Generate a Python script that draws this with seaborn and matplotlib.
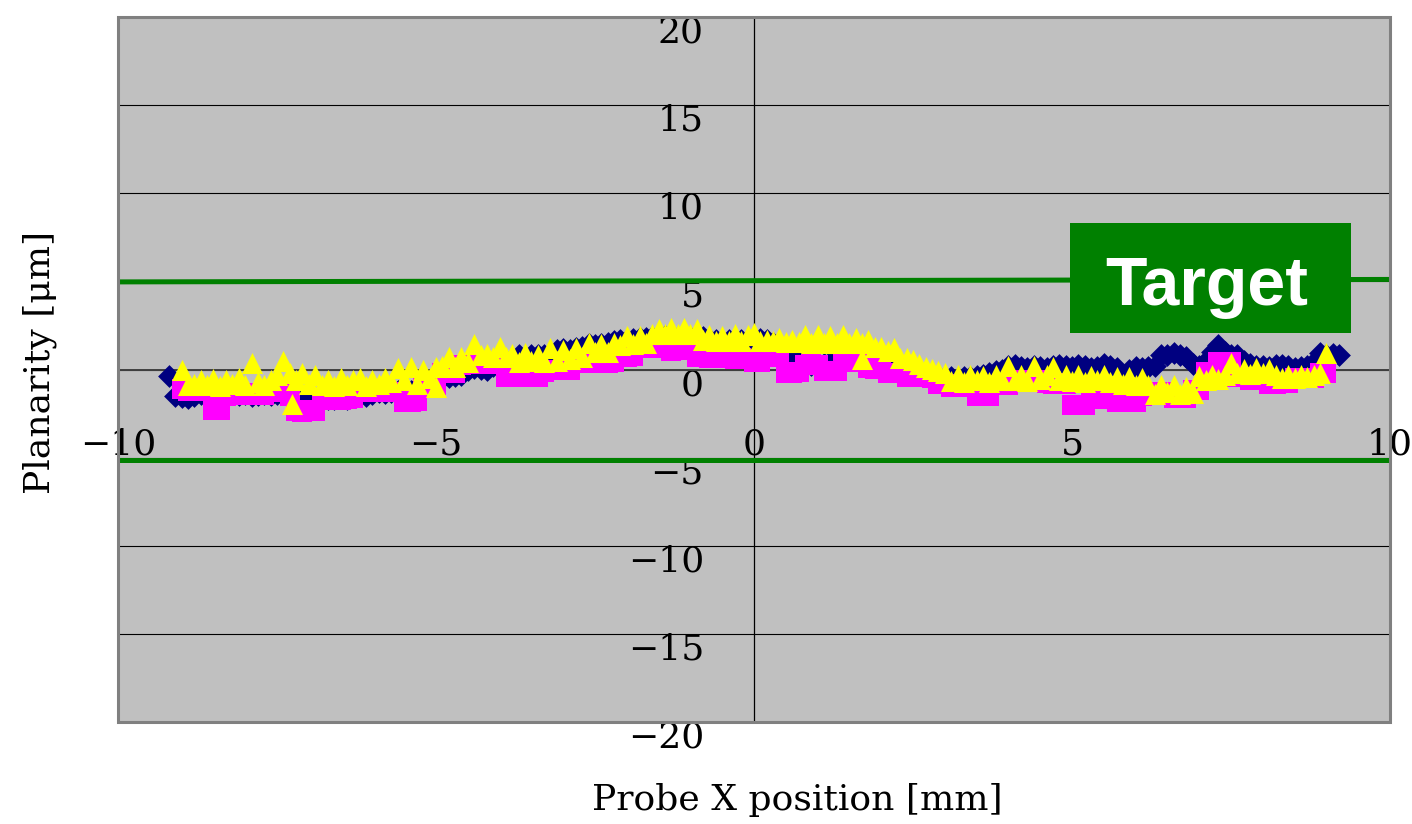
import numpy as np
import pandas as pd
import matplotlib
matplotlib.use("Agg")
import matplotlib.pyplot as plt
import seaborn as sns
from matplotlib.patches import Rectangle
from matplotlib.transforms import ScaledTranslation

# ---------------- data ----------------
x_ticks = [-10, -5, 0, 5, 10]
y_ticks = [-20, -15, -10, -5, 0, 5, 10, 15, 20]

# probe scan positions: step 0.1 mm
scan_start_a = -9.2   # series 1 (navy diamonds)
scan_start_b = -9.0   # series 2 / 3
scan_step = 0.1

series1_y = [-0.35, -1.5, -1.55, -1.6, -1.5, -1.4, -1.45, -1.5, -1.4, -1.3,
             -1.35, -1.45, -1.4, -1.5, -1.45, -1.4, -1.45, -1.4, -1.3, -1.4,
             -1.3, -1.5, -1.5, -1.6, -1.65, -1.7, -1.65, -1.6, -1.7, -1.5,
             -1.45, -1.5, -1.4, -1.3, -1.35, -1.3, -1.2, -1.25, -1.2, -1.0,
             -0.9, -0.85, -0.7, -0.5, -0.4, -0.35, -0.3, 0.0, 0.1, 0.05,
             0.0, 0.2, 0.3, 0.5, 0.6, 0.82, 0.7, 0.8, 0.85, 0.82,
             0.9, 1.1, 1.17, 1.1, 1.2, 1.3, 1.45, 1.4, 1.45, 1.5,
             1.6, 1.68, 1.7, 1.75, 1.8, 1.8, 1.85, 1.8, 1.9, 1.85,
             1.85, 1.9, 1.85, 1.85, 1.85, 1.75, 1.7, 1.6, 1.65, 1.6,
             1.7, 1.65, 1.75, 1.73, 1.7, 1.5, 1.2, 1.0, 0.8, 0.5,
             0.3, 0.26, 0.25, 0.3, 0.4, 0.5, 0.6, 0.7, 0.8, 0.75,
             0.7, 0.6, 0.5, 0.4, 0.3, 0.2, 0.1, 0.0, -0.1, -0.2,
             -0.3, -0.35, -0.4, -0.45, -0.5, -0.45, -0.4, -0.35, -0.3, -0.2,
             -0.1, 0.0, 0.2, 0.26, 0.15, 0.1, 0.2, 0.15, 0.1, 0.2,
             0.25, 0.2, 0.15, 0.26, 0.2, 0.1, 0.15, 0.3, 0.2, 0.1,
             -0.3, 0.0, 0.14, 0.1, 0.14, 0.2, 0.82, 0.85, 0.94, 0.8,
             0.7, 0.3, 0.2, 0.5, 1.0, 1.39, 1.0, 0.82, 0.82, 0.5,
             0.3, 0.2, 0.2, 0.15, 0.26, 0.26, 0.2, 0.1, 0.15, 0.2,
             0.4, 0.94, 0.8, 0.9, 0.82]

series2_y = [-1.1, -1.2, -1.1, -1.2, -1.15, -2.3, -2.3, -1.5, -1.4, -1.45,
             -1.4, -1.45, -1.35, -1.45, -1.3, -1.2, -1.25, -1.5, -2.35, -2.4,
             -2.3, -2.35, -1.7, -1.75, -1.7, -1.75, -1.7, -1.6, -1.3, -1.3,
             -1.25, -1.3, -1.25, -1.3, -1.3, -1.85, -1.85, -1.8, -0.9, -0.85,
             -0.9, -0.2, -0.2, -0.2, 0.25, 0.3, 0.3, 0.3, 0.3, 0.3,
             0.35, -0.45, -0.45, -0.4, -0.45, -0.4, -0.45, -0.15, -0.05, -0.05,
             -0.05, 0.0, 0.35, 0.35, 0.4, 0.35, 0.4, 0.35, 0.4, 0.7,
             0.7, 0.75, 1.2, 1.2, 1.25, 1.2, 1.25, 1.05, 1.2, 1.2,
             1.1, 0.7, 0.7, 0.65, 0.7, 0.65, 0.65, 0.6, 0.65, 0.6,
             0.45, 0.45, 0.7, 0.7, 0.7, -0.2, -0.2, -0.15, 0.25, 0.3,
             0.25, -0.1, -0.1, -0.1, 0.45, 0.6, 0.6, 0.45, 0.1, 0.05,
             0.1, -0.2, -0.2, -0.2, -0.45, -0.45, -0.45, -0.45, -0.5, -0.8,
             -0.8, -1.0, -1.0, -1.0, -1.0, -1.5, -1.5, -1.5, -0.9, -0.85,
             -0.9, -0.6, -0.6, -0.6, -0.6, -0.6, -0.75, -0.8, -0.75, -0.8,
             -2.0, -2.0, -2.0, -1.6, -1.6, -1.65, -1.65, -1.85, -1.85, -1.85,
             -1.85, -1.5, -1.45, -1.45, -1.3, -1.3, -1.6, -1.6, -1.6, -1.15,
             -1.15, -0.15, -0.15, 0.4, 0.4, 0.4, -0.45, -0.45, -0.6, -0.6,
             -0.6, -0.8, -0.8, -0.75, -0.75, -0.5, -0.5, -0.5, -0.5, -0.2,
             -0.2]

series3_y = [0.0, -0.9, -0.8, -0.6, -0.9, -0.55, -0.95, -0.6, -0.8, -0.5,
             -0.9, 0.35, -0.7, -0.9, -0.6, -0.3, 0.5, -0.2, -0.6, -0.2,
             -0.8, -0.3, -0.9, -0.6, -0.95, -0.5, -0.9, -0.6, -0.5, -0.95,
             -0.6, -0.8, -0.5, -0.7, 0.1, -0.6, 0.15, -0.8, 0.0, -0.5,
             0.15, 0.2, 0.7, 0.15, 0.7, 0.4, 1.45, 0.8, 0.9, 0.7,
             1.28, 0.7, 0.9, 0.4, 0.95, 0.5, 0.8, 0.4, 1.2, 0.5,
             1.1, 0.6, 1.2, 0.7, 1.5, 1.0, 1.45, 1.0, 1.5, 1.4,
             1.9, 1.45, 1.9, 1.5, 2.0, 2.3, 2.0, 2.35, 2.0, 2.35,
             2.0, 2.3, 1.7, 1.95, 1.6, 1.9, 1.6, 2.0, 1.6, 1.95,
             2.05, 1.6, 1.65, 1.6, 1.8, 1.55, 1.7, 1.55, 1.95, 1.5,
             1.95, 1.5, 1.9, 1.5, 1.95, 1.5, 1.8, 1.5, 1.65, 1.3,
             1.25, 1.05, 1.2, 0.65, 0.65, 0.55, 0.3, 0.15, 0.05, -0.1,
             -0.2, -0.65, -0.3, -0.7, -0.3, -0.6, -0.35, -0.7, -0.3, -0.6,
             0.2, -0.6, -0.3, -0.65, 0.2, -0.55, -0.3, 0.15, -0.6, -0.3,
             -0.65, -0.3, -0.7, -0.35, -0.6, -0.3, -0.7, -0.4, -0.8, -0.4,
             -0.9, -0.5, -0.9, -1.4, -0.9, -1.3, -0.9, -1.4, -1.0, -1.35,
             -0.35, -0.6, -0.3, -0.55, -0.3, 0.37, -0.2, 0.05, -0.25, 0.1,
             -0.2, 0.05, -0.3, -0.5, -0.3, -0.5, -0.3, -0.45, -0.3, -0.2,
             0.94]
series3_extra_x = [-7.26, -5.0, 1.7]
series3_extra_y = [-1.96, -1.0, 0.6]

target_x = [-10, 10]
target_upper = [4.97, 5.11]
target_lower = [-5.15, -5.15]
target_label = "Target"
target_box = (4.97, 2.09, 9.38, 8.31)   # x0, y0, x1, y1 in data units

# ---------------- frames ----------------
s1 = pd.DataFrame({"x": scan_start_a + scan_step * np.arange(len(series1_y)), "y": series1_y})
s2 = pd.DataFrame({"x": scan_start_b + scan_step * np.arange(len(series2_y)), "y": series2_y})
s3 = pd.DataFrame({"x": np.concatenate([scan_start_b + scan_step * np.arange(len(series3_y)), series3_extra_x]),
                   "y": np.concatenate([series3_y, series3_extra_y])})

# ---------------- style ----------------
sns.set_style("white")
plt.rcParams["font.family"] = ["DejaVu Serif", "Liberation Serif"]
plt.rcParams["axes.unicode_minus"] = True
plt.rcParams["text.color"] = "black"
plt.rcParams["xtick.labelcolor"] = "black"
plt.rcParams["ytick.labelcolor"] = "black"

fig = plt.figure(figsize=(14.12, 8.24), dpi=100)
ax = fig.add_axes([118 / 1412, 1 - 722 / 824, 1272 / 1412, 705 / 824])
ax.set_facecolor("#C0C0C0")

sns.scatterplot(data=s1, x="x", y="y", ax=ax, marker="D", s=135, color="#000080",
                linewidth=0, zorder=3)
sns.scatterplot(data=s2, x="x", y="y", ax=ax, marker="s", s=195, color="#FF00FF",
                linewidth=0, zorder=4)
sns.scatterplot(data=s3, x="x", y="y", ax=ax, marker="^", s=230, color="#FFFF00",
                linewidth=0, zorder=5)

ax.plot(target_x, target_upper, color="#008000", lw=3.6, zorder=6, solid_capstyle="butt")
ax.plot(target_x, target_lower, color="#008000", lw=3.6, zorder=6, solid_capstyle="butt")

bx0, by0, bx1, by1 = target_box
ax.add_patch(Rectangle((bx0, by0), bx1 - bx0, by1 - by0, facecolor="#008000",
                       edgecolor="none", zorder=7))
ax.text(7.12, 3.66, target_label, color="white", fontsize=49, fontweight="bold",
        family=["Liberation Sans", "DejaVu Sans"], ha="center", va="baseline", zorder=8)

ax.set_xlim(-10, 10)
ax.set_ylim(-20, 20)
ax.set_xticks(x_ticks)
ax.set_yticks(y_ticks)
ax.set_xlabel("")
ax.set_ylabel("")

# gridlines
ax.yaxis.grid(True, color="black", lw=0.8, zorder=1)
ax.xaxis.grid(False)
ax.set_axisbelow(True)

# axes crossing at origin
for side in ["top", "right"]:
    ax.spines[side].set_visible(False)
ax.spines["left"].set_position(("data", 0))
ax.spines["bottom"].set_position(("data", 0))
ax.spines["left"].set_color("black")
ax.spines["left"].set_linewidth(0.9)
ax.spines["bottom"].set_color("#404040")
ax.spines["bottom"].set_linewidth(1.4)
ax.spines["left"].set_zorder(2)
ax.spines["bottom"].set_zorder(2)

ax.tick_params(axis="x", direction="in", length=11, width=0.9, color="#404040",
               pad=42, labelsize=26)
ax.tick_params(axis="y", direction="in", length=11, width=0.9, color="black",
               pad=36, labelsize=26)
for lab in ax.get_yticklabels():
    lab.set_transform(lab.get_transform() + ScaledTranslation(0, -12 / 100, fig.dpi_scale_trans))

# plot-area border
ax.add_patch(Rectangle((0, 0), 1, 1, transform=ax.transAxes, fill=False,
                       edgecolor="#808080", lw=2.2, clip_on=False, zorder=10))

fig.text(797 / 1412, 1 - 800 / 824, "Probe X position [mm]", fontsize=26,
         ha="center", va="center")
fig.text(40 / 1412, 1 - 362 / 824, "Planarity [μm]", fontsize=26,
         ha="center", va="center", rotation=90)

fig.savefig("out.png", dpi=100, facecolor="white")
